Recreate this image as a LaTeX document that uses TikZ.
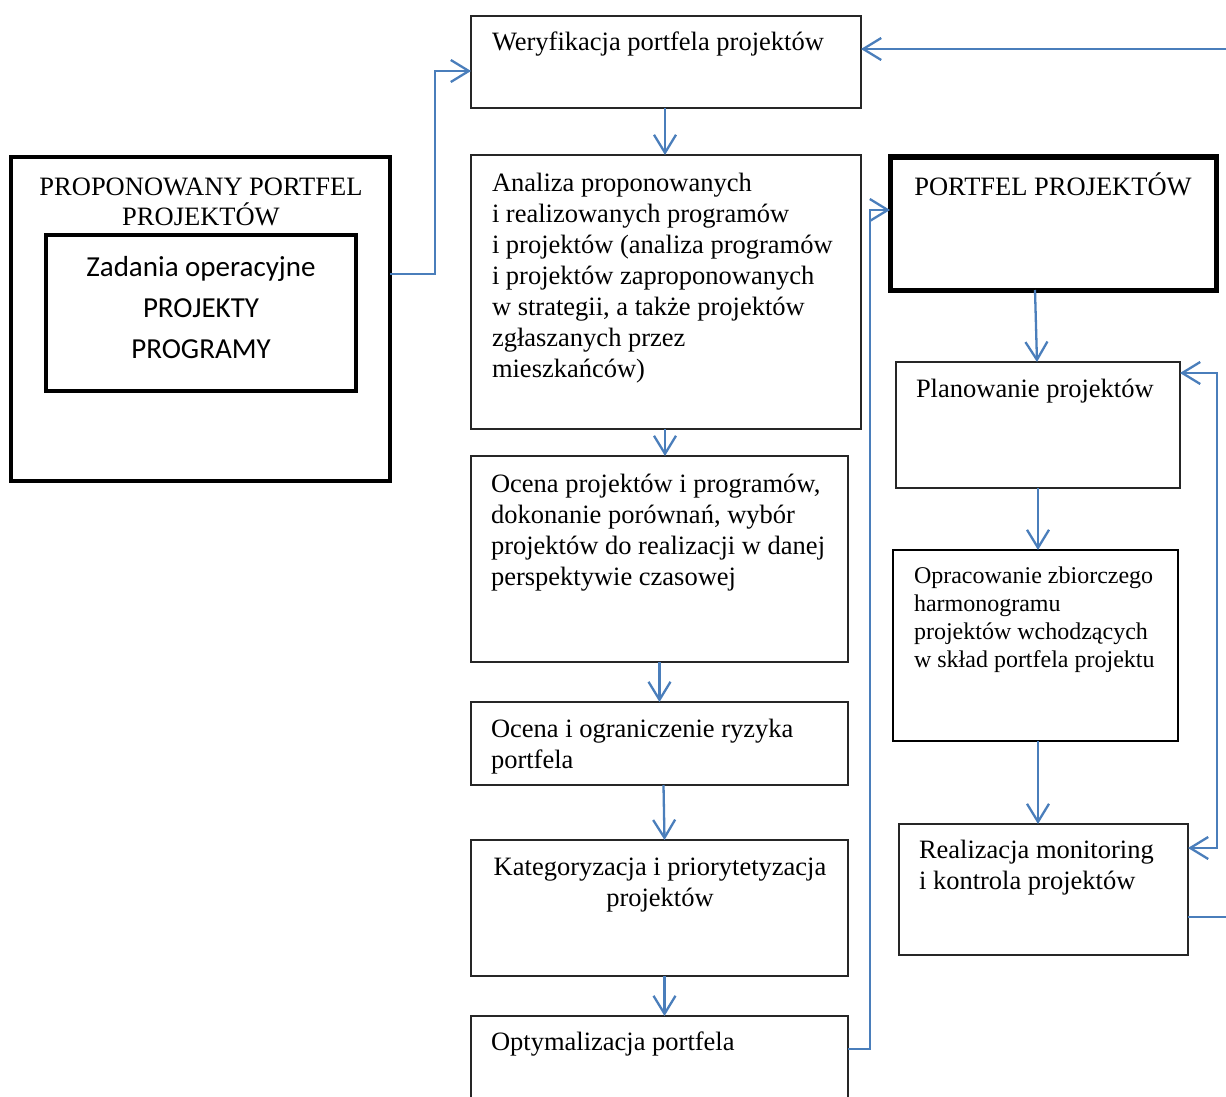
\documentclass[tikz,border=0pt]{standalone}
\usepackage{fontspec}
\setmainfont{Liberation Serif}
\newfontfamily\calib{Carlito}
\usetikzlibrary{arrows.meta}
\definecolor{arrblue}{RGB}{74,126,187}
\begin{document}
\begin{tikzpicture}[x=1pt,y=-1pt,
  box/.style={draw=black!85,line width=1.3pt,inner sep=0pt,outer sep=0pt,anchor=north west,fill=none},
  thickbox/.style={box,draw=black,line width=4.5pt},
  medbox/.style={box,draw=black,line width=2pt},
  txt/.style={inner sep=0pt,outer sep=0pt,anchor=base west,align=left,font=\fontsize{26.5}{31}\selectfont},
  ctxt/.style={txt,anchor=base,align=center},
  stxt/.style={txt,font=\fontsize{24}{28}\selectfont},
  arr/.style={draw=arrblue,line width=2.3pt,>={Straight Barb[length=18pt,width=22pt,line width=2.3pt]}}]
\useasboundingbox (0,0) rectangle (1226,1097);
\clip (0,0) rectangle (1226,1097);
\fill[white] (0,0) rectangle (1226,1097);
% left boxes (multi-line texts are placed by the baseline of their last line)
\node[thickbox,minimum width=379pt,minimum height=324pt] (prop) at (11,157) {};
\node[ctxt] (propT) at (201,225) {PROPONOWANY PORTFEL\\[-1pt]PROJEKTÓW};
\node[thickbox,minimum width=310pt,minimum height=156pt] (zad) at (46,235) {};
\node[ctxt,font=\calib\fontsize{29}{41}\selectfont] (zadT) at (201,358) {Zadania operacyjne\\PROJEKTY\\PROGRAMY};
% middle column
\node[box,minimum width=390pt,minimum height=92pt] (wer) at (471,16) {};
\node[txt] (werT) at (492,51) {Weryfikacja portfela projektów};
\node[box,minimum width=390pt,minimum height=274pt] (ana) at (471,155) {};
\node[txt] (anaT) at (492,377) {Analiza proponowanych\\ i realizowanych programów\\ i projektów (analiza programów\\ i projektów zaproponowanych\\ w strategii, a także projektów\\ zgłaszanych przez\\ mieszkańców)};
\node[box,minimum width=377pt,minimum height=206pt] (oc1) at (471,456) {};
\node[txt] (oc1T) at (491,585) {Ocena projektów i programów,\\ dokonanie porównań, wybór\\ projektów do realizacji w danej\\ perspektywie czasowej};
\node[box,minimum width=377pt,minimum height=83pt] (oc2) at (471,702) {};
\node[txt] (oc2T) at (491,768) {Ocena i ograniczenie ryzyka\\ portfela};
\node[box,minimum width=377pt,minimum height=136pt] (kat) at (471,840) {};
\node[ctxt] (katT) at (660,906) {Kategoryzacja i priorytetyzacja\\ projektów};
\node[box,minimum width=377pt,minimum height=130pt] (opt) at (471,1016) {};
\node[txt] (optT) at (491,1050) {Optymalizacja portfela};
% right column
\node[thickbox,line width=5pt,minimum width=326pt,minimum height=133pt] (port) at (890,157) {};
\node[ctxt] (portT) at (1053,195) {PORTFEL PROJEKTÓW};
\node[box,minimum width=284pt,minimum height=126pt] (plan) at (896,362) {};
\node[txt] (planT) at (916,397) {Planowanie projektów};
\node[medbox,minimum width=285pt,minimum height=191pt] (opr) at (893,550) {};
\node[stxt] (oprT) at (914,667) {Opracowanie zbiorczego\\ harmonogramu\\ projektów wchodzących\\ w skład portfela projektu};
\node[box,minimum width=289pt,minimum height=131pt] (real) at (899,824) {};
\node[txt] (realT) at (919,889) {Realizacja monitoring\\ i kontrola projektów};
\coordinate (offa) at (1240,917);
% connectors
\draw[arr,->] ([xshift=-1pt]wer.south) -- ([xshift=-1pt]ana.north);
\draw[arr,->] ([xshift=-1pt]ana.south) -- ([xshift=-1pt]ana.south |- oc1.north);
\draw[arr,->] (oc1.south) -- (oc2.north);
\draw[arr,->] ([xshift=4pt]oc2.south) -- ([xshift=5pt]kat.north);
\draw[arr,->] ([xshift=5pt]kat.south) -- ([xshift=5pt]opt.north);
\draw[arr,->] ([yshift=45pt]prop.east) -- ++(45,0) |- ([yshift=-9pt]wer.west);
\draw[arr,->] ([yshift=-33pt]opt.north east) -- ++(22,0) |- ([yshift=13.5pt]port.west);
\draw[arr,->] ([xshift=-18pt]port.south) -- ([xshift=-1pt]plan.north);
\draw[arr,->] (plan.south) -- (plan.south |- opr.north);
\draw[arr,->] ([xshift=2.5pt]opr.south) -- ([xshift=2.5pt]opr.south |- real.north);
\draw[arr,<->] ([yshift=52pt]plan.east) -- ++(37,0) |- ([yshift=41.5pt]real.east);
\draw[arr,->] ([yshift=-27.5pt]real.east) -- (offa) |- ([yshift=13pt]wer.east);
\end{tikzpicture}
\end{document}
